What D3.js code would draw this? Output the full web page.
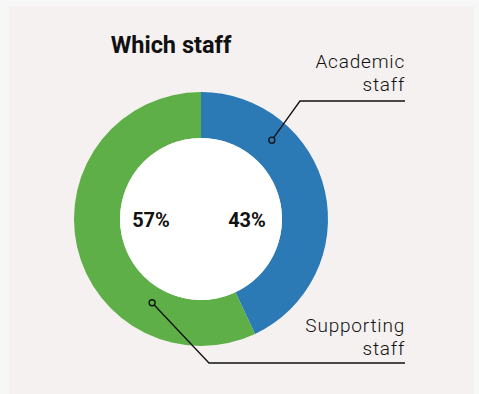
<!DOCTYPE html>
<html>
<head>
<meta charset="utf-8">
<script src="https://cdn.jsdelivr.net/npm/d3@7"></script>
<style>
  body { margin: 0; background: #f7f7f7; }
  svg { display: block; }
</style>
</head>
<body>
<div id="chart"></div>
<script>
const categories = ["Academic staff", "Supporting staff"];
const values = [43, 57];
const colors = ["#2b79b5", "#5eaf48"];
const labelLines = [["Academic", "staff"], ["Supporting", "staff"]];

const width = 479, height = 394;
const cx = 201, cy = 219, outerR = 127, innerR = 81;

const svg = d3.select("#chart")
  .append("svg")
  .attr("width", width)
  .attr("height", height);

// panel
svg.append("rect")
  .attr("x", 9).attr("y", 6)
  .attr("width", 465).attr("height", 400)
  .attr("fill", "#f4f1f0");

svg.append("text")
  .attr("x", 171).attr("y", 53)
  .attr("text-anchor", "middle")
  .style("font-family", "Roboto, sans-serif")
  .style("font-weight", "bold")
  .style("font-size", "23.5px")
  .attr("fill", "#111")
  .text("Which staff");

const pie = d3.pie().sort(null).value(d => d);
const arcs = pie(values);
const arc = d3.arc().innerRadius(innerR).outerRadius(outerR);

const g = svg.append("g").attr("transform", `translate(${cx},${cy})`);

g.selectAll("path")
  .data(arcs)
  .enter()
  .append("path")
  .attr("d", arc)
  .attr("fill", (d, i) => colors[i]);

g.append("circle").attr("r", innerR).attr("fill", "#fff");

// percentage labels inside the hole
const pctX = [46, -50];
g.selectAll(".pct")
  .data(arcs)
  .enter()
  .append("text")
  .attr("class", "pct")
  .attr("x", (d, i) => pctX[i])
  .attr("y", 8)
  .attr("text-anchor", "middle")
  .style("font-family", "Roboto, sans-serif")
  .style("font-weight", "bold")
  .style("font-size", "20px")
  .attr("fill", "#111")
  .text(d => d.data + "%");

// leader lines: dot on the ring, elbow, horizontal line to the right
const dotR = [106, 97];
const dotAngle = [0.732, 3.67];   // radians, clockwise from top
const elbowX = [300, 209];
const elbowY = [101, 363];
const lineEnd = 405;
const textY = [68, 332];

arcs.forEach((d, i) => {
  const a = dotAngle[i];
  const px = cx + dotR[i] * Math.sin(a);
  const py = cy - dotR[i] * Math.cos(a);
  svg.append("polyline")
    .attr("points", `${px},${py} ${elbowX[i]},${elbowY[i]} ${lineEnd},${elbowY[i]}`)
    .attr("fill", "none")
    .attr("stroke", "#111")
    .attr("stroke-width", 1.3);
  svg.append("circle")
    .attr("cx", px).attr("cy", py).attr("r", 3)
    .attr("fill", colors[i])
    .attr("stroke", "#111")
    .attr("stroke-width", 1.3);

  const t = svg.append("text")
    .attr("x", lineEnd).attr("y", textY[i])
    .attr("text-anchor", "end")
    .style("font-family", "Roboto, sans-serif")
    .style("font-weight", 300)
    .style("font-size", "19px")
    .style("letter-spacing", "0.8px")
    .attr("fill", "#111");
  labelLines[i].forEach((s, j) => {
    t.append("tspan").attr("x", lineEnd).attr("dy", j === 0 ? 0 : 23).text(s);
  });
});
</script>
</body>
</html>
